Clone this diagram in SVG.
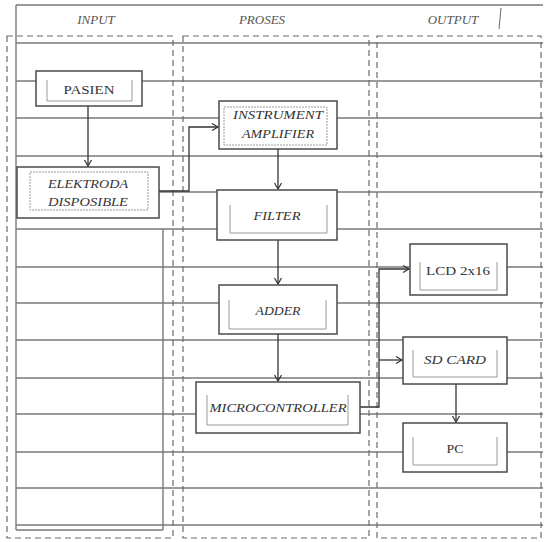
<svg xmlns="http://www.w3.org/2000/svg" width="544" height="542" viewBox="0 0 544 542">
<style>
.bg{fill:#fff}
.grid{stroke:#7a7a7a;stroke-width:1.4;fill:none}
.dash{stroke:#6a6a6a;stroke-width:1.2;fill:none;stroke-dasharray:6 4}
.box{fill:#fff;stroke:#4a4a4a;stroke-width:1.5}
.inner{fill:none;stroke:#9a9a9a;stroke-width:1}
.conn{fill:none;stroke:#333;stroke-width:1.3}
.hdr{font-family:"Liberation Serif",serif;font-style:italic;font-size:13px;fill:#555;text-anchor:middle}
.lbl{font-family:"Liberation Serif",serif;font-style:italic;font-size:13px;fill:#333;text-anchor:middle}
.up{font-family:"Liberation Serif",serif;font-size:13px;fill:#333;text-anchor:middle}
</style>
<defs>
<marker id="arr" markerWidth="10" markerHeight="10" refX="8" refY="5" orient="auto" markerUnits="userSpaceOnUse">
<polyline points="2,1.5 8,5 2,8.5" fill="none" stroke="#333" stroke-width="1.2"/>
</marker>
</defs>
<rect class="bg" x="0" y="0" width="544" height="542"/>
<g id="table">
<path class="grid" d="M16 5H543M16 5V530M16 43H543M16 81H543M16 118H543M16 156H543M16 192H543M16 229H543M16 267H543M16 303H543M16 340H543M16 378H543M16 414H543M16 452H543M16 488H543M16 525H543M16 530H163M163 229V530"/>
</g>
<g id="columns">
<rect class="dash" x="7" y="36" width="166" height="502"/>
<rect class="dash" x="183" y="36" width="186" height="502"/>
<rect class="dash" x="377" y="36" width="164" height="502"/>
<text class="hdr" x="96" y="24">INPUT</text>
<text class="hdr" x="262" y="24">PROSES</text>
<text class="hdr" x="453" y="24">OUTPUT</text>
<line x1="501" y1="8" x2="499" y2="29" stroke="#666" stroke-width="1"/>
</g>
<g id="connectors">
<line class="conn" x1="88" y1="106" x2="88" y2="166" marker-end="url(#arr)"/>
<polyline class="conn" points="159,191 189,191 189,127 218,127" marker-end="url(#arr)"/>
<line class="conn" x1="278" y1="149" x2="278" y2="189" marker-end="url(#arr)"/>
<line class="conn" x1="278" y1="240" x2="278" y2="284" marker-end="url(#arr)"/>
<line class="conn" x1="278" y1="334" x2="278" y2="381" marker-end="url(#arr)"/>
<polyline class="conn" points="360,407 379,407 379,269 409,269" marker-end="url(#arr)"/>
<line class="conn" x1="379" y1="360" x2="402" y2="360" marker-end="url(#arr)"/>
<line class="conn" x1="456" y1="384" x2="456" y2="422" marker-end="url(#arr)"/>
</g>
<g id="pasien">
<rect class="box" x="36" y="71" width="106" height="35"/>
<path class="inner" d="M47 80V101H132V80"/>
<text class="up" x="89" y="94" textLength="51" lengthAdjust="spacingAndGlyphs">PASIEN</text>
</g>
<g id="elektroda">
<rect class="box" x="17" y="167" width="142" height="51"/>
<rect class="inner" x="30" y="172" width="118" height="38" stroke-dasharray="2 1"/>
<text class="lbl" x="88" y="188" textLength="80" lengthAdjust="spacingAndGlyphs">ELEKTRODA</text>
<text class="lbl" x="88" y="206" textLength="80" lengthAdjust="spacingAndGlyphs">DISPOSIBLE</text>
</g>
<g id="instrument-amplifier">
<rect class="box" x="219" y="101" width="118" height="48"/>
<rect class="inner" x="224" y="107" width="103" height="38" stroke-dasharray="2 1"/>
<text class="lbl" x="278" y="119" textLength="90" lengthAdjust="spacingAndGlyphs">INSTRUMENT</text>
<text class="lbl" x="278" y="138" textLength="72" lengthAdjust="spacingAndGlyphs">AMPLIFIER</text>
</g>
<g id="filter">
<rect class="box" x="217" y="190" width="120" height="50"/>
<path class="inner" d="M230 205V233H327V205"/>
<text class="lbl" x="277" y="220" textLength="47" lengthAdjust="spacingAndGlyphs">FILTER</text>
</g>
<g id="adder">
<rect class="box" x="219" y="285" width="118" height="49"/>
<path class="inner" d="M229 300V329H326V300"/>
<text class="lbl" x="278" y="315" textLength="45" lengthAdjust="spacingAndGlyphs">ADDER</text>
</g>
<g id="microcontroller">
<rect class="box" x="196" y="382" width="164" height="51"/>
<path class="inner" d="M207 395V425H348V395"/>
<text class="lbl" x="278" y="412" textLength="137" lengthAdjust="spacingAndGlyphs">MICROCONTROLLER</text>
</g>
<g id="lcd">
<rect class="box" x="410" y="244" width="97" height="51"/>
<path class="inner" d="M420 262V290H497V262"/>
<text class="up" x="458" y="275" textLength="64" lengthAdjust="spacingAndGlyphs">LCD 2x16</text>
</g>
<g id="sdcard">
<rect class="box" x="403" y="337" width="104" height="47"/>
<path class="inner" d="M413 350V377H497V350"/>
<text class="lbl" x="455" y="364" textLength="62" lengthAdjust="spacingAndGlyphs">SD CARD</text>
</g>
<g id="pc">
<rect class="box" x="403" y="423" width="104" height="49"/>
<path class="inner" d="M413 437V465H497V437"/>
<text class="up" x="455" y="453" textLength="17" lengthAdjust="spacingAndGlyphs">PC</text>
</g>
</svg>
